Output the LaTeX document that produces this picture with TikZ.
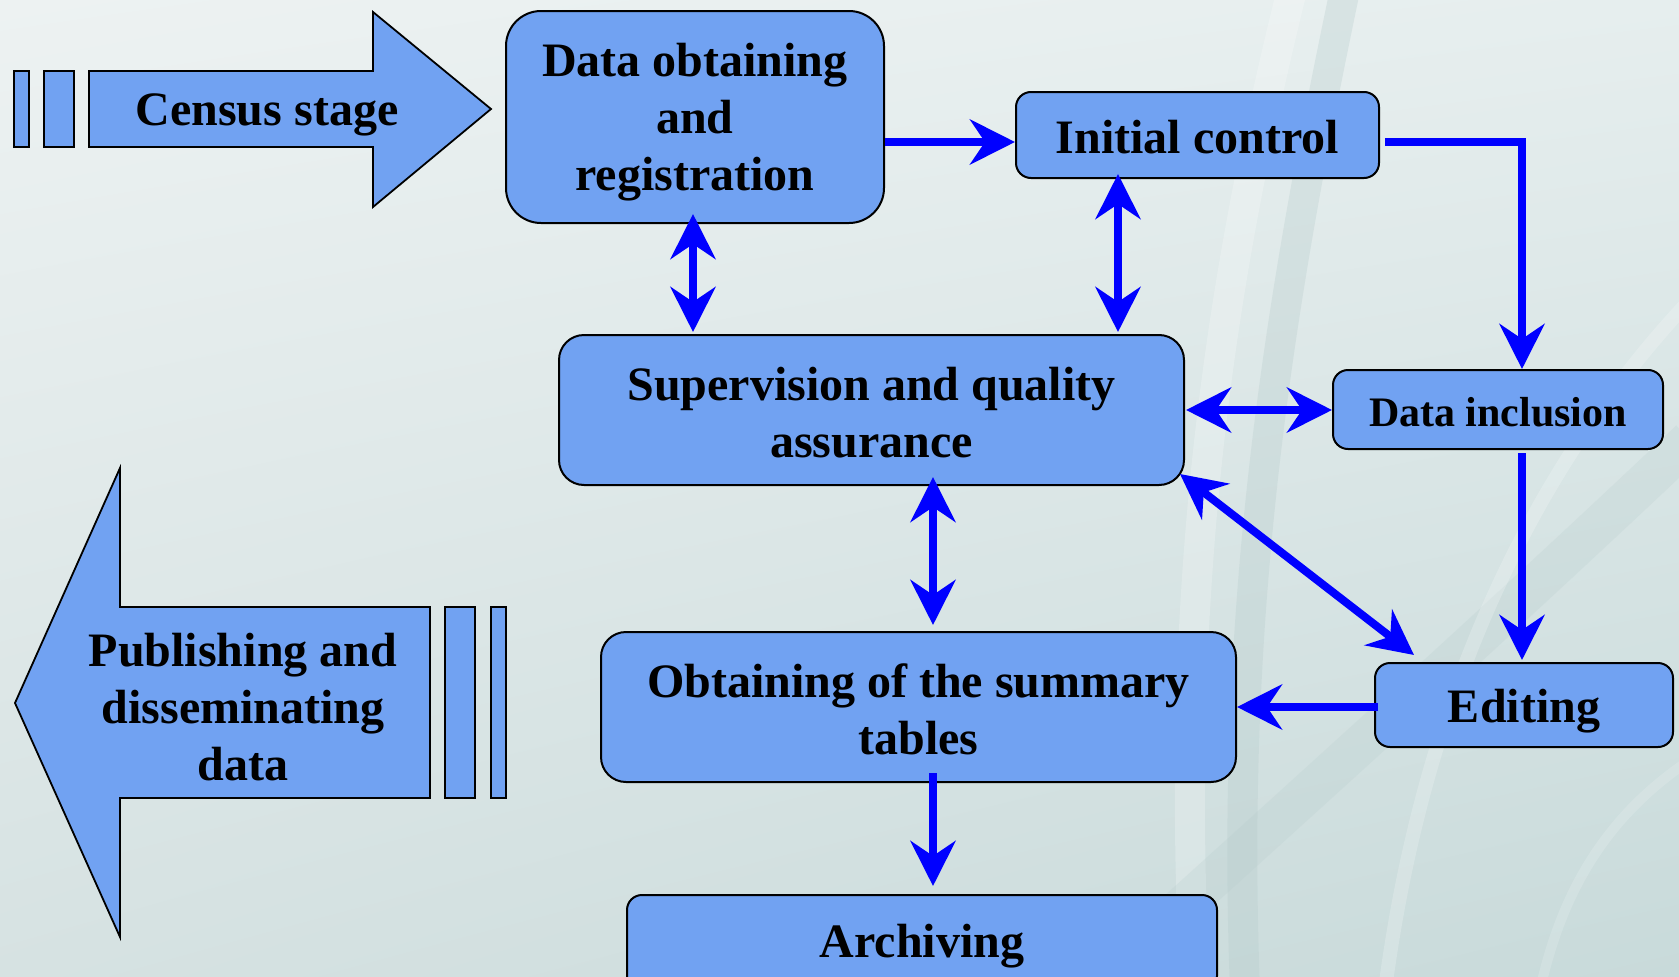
\documentclass[tikz,border=0pt]{standalone}
\usepackage{fontspec}
\setmainfont{Liberation Serif}
\usetikzlibrary{arrows.meta,calc,shadings}
\definecolor{boxblue}{RGB}{113,162,242}
\definecolor{flowblue}{RGB}{0,0,255}
\definecolor{bgA}{RGB}{237,242,242}
\definecolor{bgB}{RGB}{230,238,238}
\definecolor{bgC}{RGB}{214,226,226}
\definecolor{bgD}{RGB}{200,218,218}
\definecolor{bgDark}{RGB}{180,202,202}
\tikzset{
  flowbox/.style={draw=black, line width=2pt, fill=boxblue, rounded corners=#1, inner sep=0pt},
  boxtext/.style={align=center, inner sep=0pt, font=\bfseries\fontsize{48}{57}\selectfont},
  bigarrow/.style={draw=black, line width=1.8pt, fill=boxblue},
  onehead/.style={draw=flowblue, line width=8pt,
    -{Stealth[length=45pt,width=45pt,inset=15pt,fill=flowblue]}},
  twohead/.style={draw=flowblue, line width=8pt,
    {Stealth[length=45pt,width=45pt,inset=15pt,fill=flowblue]}-{Stealth[length=45pt,width=45pt,inset=15pt,fill=flowblue]}}
}
\begin{document}
\begin{tikzpicture}[x=1pt,y=-1pt]
\clip (0,0) rectangle (1679,977);
\shade[upper left=bgA, upper right=bgB, lower left=bgC, lower right=bgD] (0,0) rectangle (1679,977);
% faint background ribbons
\draw[bgDark, opacity=0.3, line width=30pt] (1345,-10) .. controls (1280,300) and (1230,600) .. (1245,990);
\draw[white, opacity=0.22, line width=30pt] (1292,-10) .. controls (1215,300) and (1175,600) .. (1195,990);
\draw[bgDark, opacity=0.22, line width=40pt] (1090,990) .. controls (1300,800) and (1500,620) .. (1690,440);
\draw[white, opacity=0.2, line width=14pt] (1690,300) .. controls (1520,480) and (1420,720) .. (1385,990);
\draw[white, opacity=0.15, line width=10pt] (1690,760) .. controls (1600,820) and (1560,900) .. (1540,990);

% Census stage arrow
\draw[bigarrow] (14,71) rectangle (29,147);
\draw[bigarrow] (44,71) rectangle (74,147);
\draw[bigarrow] (89,71) -- (373,71) -- (373,12) -- (491,109) -- (373,207) -- (373,147) -- (89,147) -- cycle;
\node[boxtext] (census) at (267,115) {Census stage};

% Publishing arrow
\draw[bigarrow] (445,607) rectangle (475,798);
\draw[bigarrow] (491,607) rectangle (506,798);
\draw[bigarrow] (430,607) -- (120,607) -- (120,468) -- (15,703) -- (120,937) -- (120,798) -- (430,798) -- cycle;
\node[boxtext] (publ) at (243,707) {Publishing and\\disseminating\\data};

% boxes
\node[flowbox=35pt, minimum width=378pt, minimum height=212pt] (do) at (695,117) {};
\node[flowbox=15pt, minimum width=363pt, minimum height=86pt] (ic) at (1197.5,135) {};
\node[flowbox=25pt, minimum width=625pt, minimum height=150pt] (sup) at (871.5,410) {};
\node[flowbox=15pt, minimum width=330pt, minimum height=79pt] (di) at (1498,409.5) {};
\node[flowbox=25pt, minimum width=635pt, minimum height=150pt] (obt) at (918.5,707) {};
\node[flowbox=15pt, minimum width=298pt, minimum height=84pt] (ed) at (1524,705) {};
\node[flowbox=15pt, minimum width=590pt, minimum height=96pt] (arc) at (922,943) {};

% box texts
\node[boxtext] (do-t) at ($(do)+(0,5.5)$) {Data obtaining\\and\\registration};
\node[boxtext] (ic-t) at ($(ic)+(0,2.5)$) {Initial control};
\node[boxtext] (sup-t) at ($(sup)+(0,3)$) {Supervision and quality\\assurance};
\node[boxtext, font=\bfseries\fontsize{42}{50}\selectfont] (di-t) at ($(di)+(0,3)$) {Data inclusion};
\node[boxtext] (obt-t) at ($(obt)+(0,2.5)$) {Obtaining of the summary\\tables};
\node[boxtext] (ed-t) at ($(ed)+(0,6)$) {Editing};
\node[boxtext] (arc-t) at ($(arc)+(0,3)$) {Archiving};

% connectors
\draw[onehead] ($(do.east|-ic.west)+(0,7)$) -- ($(ic.west)+(0,7)$);
\draw[twohead] ($(do.south)+(-2,-10)$) -- ($(do.south|-sup.north)+(-2,-2)$);
\draw[twohead] ($(ic.south)+(-79.5,-5)$) -- ($(ic.south|-sup.north)+(-79.5,-2)$);
\draw[onehead] ($(ic.east)+(5,7)$) -| ($(di.north)+(24,0)$);
\draw[twohead] ($(sup.east)+(1,0)$) -- (sup.east -| di.west);
\draw[twohead] ($(sup.south east)+(-5,-12)$) -- ($(ed.north west)+(40,-7)$);
\draw[onehead] ($(di.south)+(24,3)$) -- ($(di.south|-ed.north)+(24,-2)$);
\draw[onehead] ($(ed.west)+(4,2)$) -- ($(ed.west-|obt.east)+(0,2)$);
\draw[twohead] ($(sup.south)+(61.5,-9)$) -- ($(sup.south|-obt.north)+(61.5,-6)$);
\draw[onehead] ($(obt.south)+(14.5,-10)$) -- ($(obt.south|-arc.north)+(14.5,-8)$);
\end{tikzpicture}
\end{document}
